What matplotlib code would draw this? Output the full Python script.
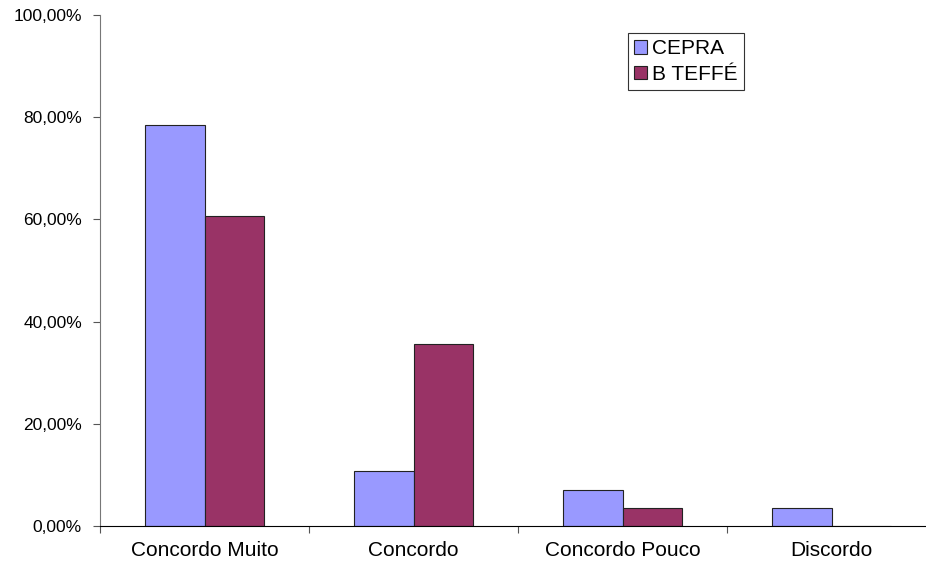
"""
Grafico de barras: CEPRA x B TEFFE
"""

import numpy as np
import matplotlib
matplotlib.use('Agg')
import matplotlib.pyplot as plt
from matplotlib.ticker import FuncFormatter

plt.rcParams['font.family'] = ['Liberation Sans', 'DejaVu Sans']

# dados
categorias = ['Concordo Muito', 'Concordo', 'Concordo Pouco', 'Discordo']
cepra = [78.57, 10.71, 7.14, 3.57]
b_teffe = [60.71, 35.71, 3.57, 0.0]
series = ['CEPRA', 'B TEFFÉ']

fig = plt.figure(figsize=(9.26, 5.67), dpi=100)
ax = fig.add_axes([100/926, 41/567, 836/926, 511/567])

x = np.arange(len(categorias))
w = 0.287
ax.bar(x - w/2, cepra, w, color='#9999FF', edgecolor='#222222', linewidth=0.8, label=series[0])
ax.bar(x + w/2, b_teffe, w, color='#993366', edgecolor='#222222', linewidth=0.8, label=series[1])

ax.set_xlim(-0.5, len(categorias) - 0.5)
ax.set_ylim(0, 100)
ax.set_yticks(np.arange(0, 101, 20))
ax.yaxis.set_major_formatter(FuncFormatter(lambda v, p: ('%.2f%%' % v).replace('.', ',')))

# ticks do eixo x nas divisas entre categorias
ax.set_xticks(np.arange(-0.5, len(categorias)), minor=False)
ax.set_xticklabels([])
ax.set_xticks(x, minor=True)
ax.set_xticklabels(categorias, minor=True, fontsize=15)
ax.tick_params(axis='x', which='minor', length=0, pad=11)
ax.tick_params(axis='x', which='major', length=5, direction='out', color='#555555')
ax.tick_params(axis='y', length=5, direction='out', labelsize=12.5, color='#555555', pad=8)

ax.spines['top'].set_visible(False)
ax.spines['right'].set_visible(False)
ax.spines['left'].set_color('#777777')
ax.spines['bottom'].set_color('black')

leg = ax.legend(loc='upper left', bbox_to_anchor=(528/836, 1 - 18/511), fontsize=15,
                frameon=True, fancybox=False, edgecolor='#333333', framealpha=1,
                handlelength=0.6, handleheight=0.6, handletextpad=0.25,
                borderpad=0.3, labelspacing=0.3, borderaxespad=0)
leg.get_frame().set_linewidth(0.8)

fig.savefig('out.png', dpi=100)
